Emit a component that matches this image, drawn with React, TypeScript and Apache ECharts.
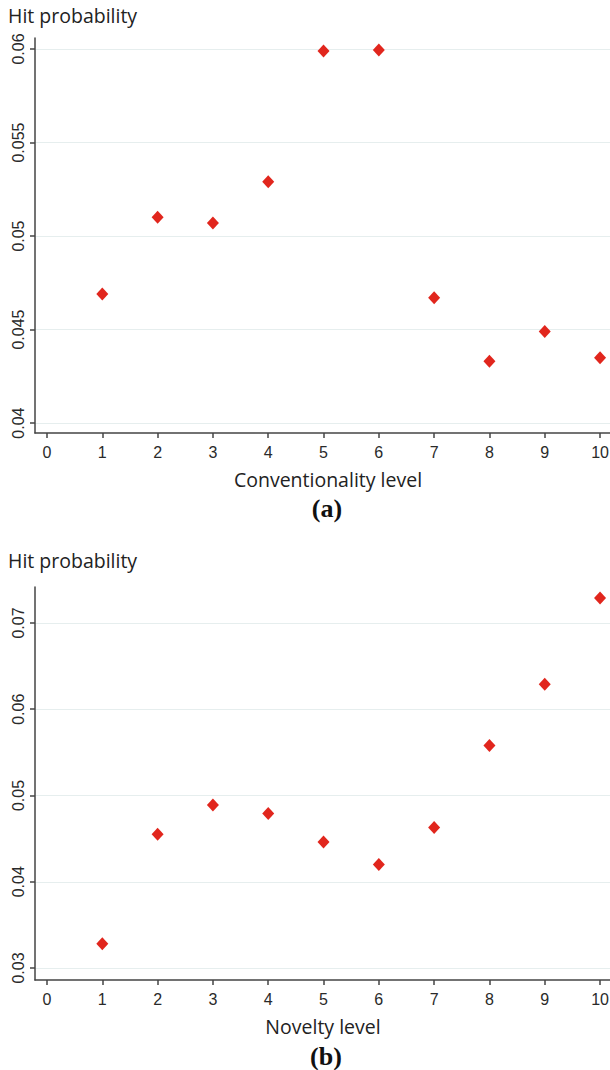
import React, { useEffect, useRef } from "react";
import * as echarts from "echarts";

// ---- data ----
const levels = [1, 2, 3, 4, 5, 6, 7, 8, 9, 10];
const conventionalityHit = [0.0469, 0.0510, 0.0507, 0.0529, 0.0599, 0.05995, 0.0467, 0.0433, 0.0449, 0.0435];
const noveltyHit = [0.0328, 0.0455, 0.0489, 0.0479, 0.0446, 0.0420, 0.0463, 0.0558, 0.0629, 0.0729];
const xTicks = [0, 1, 2, 3, 4, 5, 6, 7, 8, 9, 10];
const yTicksA = [0.04, 0.045, 0.05, 0.055, 0.06];
const yTicksB = [0.03, 0.04, 0.05, 0.06, 0.07];
const yTitle = "Hit probability";
const xTitleA = "Conventionality level";
const xTitleB = "Novelty level";
const panelA = "(a)";
const panelB = "(b)";

const AXIS_COLOR = "#444";
const TICK_FONT = "'Liberation Sans', Arial, sans-serif";
const TITLE_FONT = "'Open Sans', 'Noto Sans', sans-serif";
const RED = "#e1261d";

function xAxisFor(gridIndex: number) {
  return {
    type: "value",
    gridIndex,
    min: -0.217,
    max: 10.18,
    axisLine: { show: true, onZero: false, lineStyle: { color: AXIS_COLOR, width: 1.5 } },
    axisTick: { show: true, length: 5, customValues: xTicks, lineStyle: { color: AXIS_COLOR, width: 1.5 } },
    axisLabel: {
      customValues: xTicks,
      margin: 11,
      fontSize: 16,
      fontFamily: TICK_FONT,
      color: "#2a2a2a",
    },
    splitLine: { show: false },
  };
}

function yAxisFor(gridIndex: number, min: number, max: number, ticks: number[]) {
  return {
    type: "value",
    gridIndex,
    min,
    max,
    axisLine: { show: true, onZero: false, lineStyle: { color: AXIS_COLOR, width: 1.5 } },
    axisTick: { show: true, length: 5, customValues: ticks, lineStyle: { color: AXIS_COLOR, width: 1.5 } },
    axisLabel: {
      customValues: ticks,
      rotate: 90,
      margin: 9,
      fontSize: 16,
      fontFamily: TICK_FONT,
      color: "#2a2a2a",
      formatter: (v: number) => String(parseFloat(v.toFixed(4))),
    },
    splitLine: { show: true, lineStyle: { color: "#e6eeee", width: 1 } },
  };
}

export default function App() {
  const ref = useRef<HTMLDivElement>(null);
  useEffect(() => {
    if (!ref.current) return;
    const chart = echarts.init(ref.current, undefined, { renderer: "svg" });
    const titleStyle = { fontSize: 19.5, fontFamily: TITLE_FONT, fill: "#222" };
    const panelStyle = { fontSize: 26, fontFamily: "'Liberation Serif', 'Times New Roman', serif", fontWeight: "bold", fill: "#111" };
    chart.setOption({
      animation: false,
      backgroundColor: "#fff",
      grid: [
        { left: 35, top: 38, width: 575, height: 395, outerBoundsMode: "none", containLabel: false },
        { left: 35, top: 587, width: 575, height: 393, outerBoundsMode: "none", containLabel: false },
      ],
      xAxis: [xAxisFor(0), xAxisFor(1)],
      yAxis: [
        yAxisFor(0, 0.03947, 0.06059, yTicksA),
        yAxisFor(1, 0.02861, 0.07417, yTicksB),
      ],
      series: [
        {
          type: "scatter",
          xAxisIndex: 0,
          yAxisIndex: 0,
          symbol: "diamond",
          symbolSize: [12, 13],
          itemStyle: { color: RED, opacity: 1 },
          data: levels.map((l, i) => [l, conventionalityHit[i]]),
        },
        {
          type: "scatter",
          xAxisIndex: 1,
          yAxisIndex: 1,
          symbol: "diamond",
          symbolSize: [12, 13],
          itemStyle: { color: RED, opacity: 1 },
          data: levels.map((l, i) => [l, noveltyHit[i]]),
        },
      ],
      graphic: [
        { type: "text", x: 8, y: 15, style: { text: yTitle, ...titleStyle, textVerticalAlign: "middle" } },
        { type: "text", x: 8, y: 560, style: { text: yTitle, ...titleStyle, textVerticalAlign: "middle" } },
        { type: "text", x: 328, y: 479, style: { text: xTitleA, ...titleStyle, textAlign: "center", textVerticalAlign: "middle" } },
        { type: "text", x: 323, y: 1026, style: { text: xTitleB, ...titleStyle, textAlign: "center", textVerticalAlign: "middle" } },
        { type: "text", x: 327, y: 508, style: { text: panelA, ...panelStyle, textAlign: "center", textVerticalAlign: "middle" } },
        { type: "text", x: 326, y: 1056, style: { text: panelB, ...panelStyle, textAlign: "center", textVerticalAlign: "middle" } },
      ],
    });
    return () => chart.dispose();
  }, []);
  return (
    <div
      ref={ref}
      style={{ position: "absolute", left: 0, top: 0, width: 610, height: 1070, background: "#fff" }}
    />
  );
}
